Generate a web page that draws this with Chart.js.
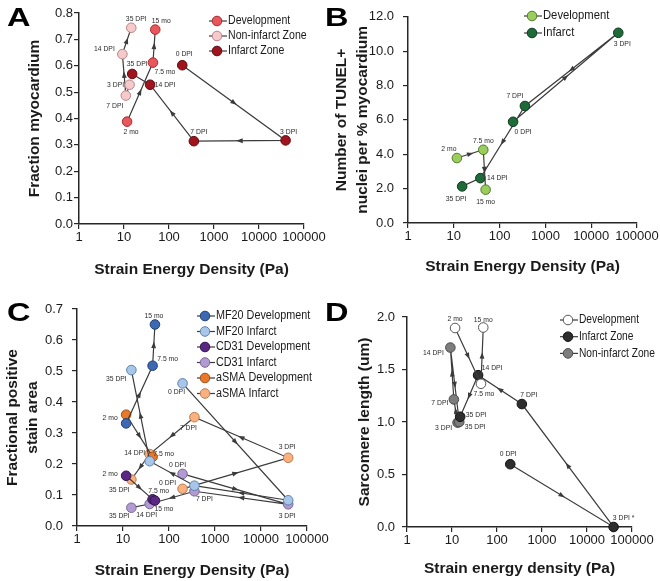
<!DOCTYPE html>
<html>
<head>
<meta charset="utf-8">
<script src="https://cdn.jsdelivr.net/npm/chart.js@4.4.0/dist/chart.umd.min.js"></script>
<style>
    html, body { margin: 0; padding: 0; background: #fff; }
    #wrap { position: relative; width: 660px; height: 581px; overflow: hidden; }
    #wrap canvas { position: absolute; }
    .letter {
        position: absolute; font: bold 26px "Liberation Sans", Arial, sans-serif;
        line-height: 1; color: #000; transform: scaleX(1.25); transform-origin: left top;
    }
</style>
</head>
<body>
<div id="wrap">
    <canvas id="chartA" width="330" height="290" style="left:0;top:0"></canvas>
    <canvas id="chartB" width="330" height="290" style="left:330px;top:0"></canvas>
    <canvas id="chartC" width="330" height="291" style="left:0;top:290px"></canvas>
    <canvas id="chartD" width="330" height="291" style="left:330px;top:290px"></canvas>
    <span class="letter" style="left:7px;top:4px">A</span>
    <span class="letter" style="left:325px;top:4px">B</span>
    <span class="letter" style="left:7px;top:299px">C</span>
    <span class="letter" style="left:325px;top:299px">D</span>
</div>
<script>
"use strict";

const decades = [1, 10, 100, 1000, 10000, 100000];

// strain energy density (Pa), same time points in every panel
const sedDev = [11.7, 44, 49.5];                 // 2 mo, 7.5 mo, 15 mo
const sedInfarct = [197, 39000, 357, 38, 15.2];  // 0, 3, 7, 14, 35 DPI
const sedRemote = [13.3, 11, 9.2, 14.5];         // 3, 7, 14, 35 DPI

const devNames = ['2 mo', '7.5 mo', '15 mo'];
const infarctNames = ['0 DPI', '3 DPI', '7 DPI', '14 DPI', '35 DPI'];
const remoteNames = ['3 DPI', '7 DPI', '14 DPI', '35 DPI'];
const sarcInfarctNames = ['0 DPI', '3 DPI *', '7 DPI', '14 DPI', '35 DPI'];

// A - fraction myocardium
const myoDev = [0.388, 0.612, 0.737];
const myoRemote = [0.528, 0.487, 0.644, 0.744];
const myoInfarct = [0.602, 0.317, 0.314, 0.528, 0.569];

// B - TUNEL+ nuclei per % myocardium
const tunelDev = [3.78, 4.26, 1.94];
const tunelInfarct = [5.89, 11.07, 6.81, 2.61, 2.13];

// C - fractional positive stain area
const mf20Dev = [0.331, 0.517, 0.650];
const mf20Infarct = [0.460, 0.083, 0.130, 0.209, 0.503];
const cd31Dev = [0.162, 0.086, 0.082];
const cd31Infarct = [0.168, 0.070, 0.112, 0.071, 0.059];
const asmaDev = [0.359, 0.223];                  // 2 mo, 7.5 mo
const asmaInfarct = [0.120, 0.220, 0.351, 0.232, 0.150];

// D - sarcomere length (um)
const sarcDev = [1.895, 1.364, 1.90];
const sarcInfarct = [0.598, 0.0, 1.171, 1.446, 1.05];
const sarcRemote = [0.994, 1.215, 1.709, 1.0];

Chart.defaults.font.family = '"Liberation Sans", Arial, Helvetica, sans-serif';
Chart.defaults.color = '#1a1a1a';

const LINE = '#3b3b3b';
const AXIS = '#262626';
const FONT = '"Liberation Sans", Arial, sans-serif';

function pts(xs, ys) {
    return ys.map((y, i) => ({x: xs[i], y: y}));
}

// narrow text, the original uses a condensed face
function squeeze(ctx, str, x, y, sx, align) {
    ctx.save();
    ctx.translate(x, y);
    ctx.scale(sx, 1);
    ctx.textAlign = align;
    ctx.fillText(str, 0, 0);
    ctx.restore();
}

function makeDecor(p) {
    return {
        id: 'decor' + p.id,
        afterDatasetsDraw(chart) {
            const ctx = chart.ctx;
            ctx.save();

            // arrow heads half way along each segment
            ctx.fillStyle = LINE;
            p.series.forEach((s, di) => {
                const els = chart.getDatasetMeta(di).data;
                for (let i = 0; i + 1 < els.length; i++) {
                    const a = els[i], b = els[i + 1];
                    const dx = b.x - a.x, dy = b.y - a.y;
                    if (Math.hypot(dx, dy) < 22) continue;
                    ctx.save();
                    ctx.translate(a.x + dx / 2, a.y + dy / 2);
                    ctx.rotate(Math.atan2(dy, dx));
                    ctx.beginPath();
                    ctx.moveTo(3.5, 0);
                    ctx.lineTo(-3, -2.4);
                    ctx.lineTo(-3, 2.4);
                    ctx.closePath();
                    ctx.fill();
                    ctx.restore();
                }
            });

            // time point tags
            ctx.font = '8px ' + FONT;
            ctx.fillStyle = '#2a2a2a';
            ctx.textBaseline = 'middle';
            p.series.forEach((s, di) => {
                const els = chart.getDatasetMeta(di).data;
                s.tags.forEach((t, i) => {
                    if (!t) return;
                    squeeze(ctx, s.names[i], els[i].x + t[0], els[i].y + t[1], 0.85, 'center');
                });
            });

            // legend  -o- label
            const lg = p.legend;
            ctx.font = lg.size + 'px ' + FONT;
            p.series.forEach((s, i) => {
                const y = lg.y0 + i * lg.dy;
                ctx.strokeStyle = LINE;
                ctx.lineWidth = 1.2;
                ctx.beginPath();
                ctx.moveTo(lg.markX - 8, y);
                ctx.lineTo(lg.markX + 10, y);
                ctx.stroke();
                ctx.beginPath();
                ctx.arc(lg.markX, y, 4.8, 0, Math.PI * 2);
                ctx.fillStyle = s.fill;
                ctx.fill();
                ctx.strokeStyle = s.edge;
                ctx.lineWidth = 1;
                ctx.stroke();
                ctx.fillStyle = '#1a1a1a';
                squeeze(ctx, s.label, lg.markX + 11, y, lg.sx, 'left');
            });
            ctx.restore();
        }
    };
}

function makePanel(p) {
    const cv = document.getElementById(p.id);
    const W = cv.width, H = cv.height;
    const a = p.area;
    return new Chart(cv, {
        type: 'scatter',
        data: {
            datasets: p.series.map(s => ({
                label: s.label,
                data: pts(s.x, s.y),
                showLine: true,
                borderColor: LINE,
                borderWidth: 1.2,
                pointRadius: 4.8,
                pointBackgroundColor: s.fill,
                pointBorderColor: s.edge,
                pointBorderWidth: 1,
                clip: false
            }))
        },
        options: {
            responsive: false,
            animation: false,
            events: [],
            layout: {padding: {left: 0, top: a.top, right: W - a.right, bottom: 0}},
            plugins: {legend: {display: false}, tooltip: {enabled: false}},
            scales: {
                x: {
                    type: 'logarithmic',
                    min: 1,
                    max: 100000,
                    afterBuildTicks: s => { s.ticks = decades.map(v => ({value: v})); },
                    afterFit: s => { s.height = H - a.bottom; },
                    ticks: {
                        callback: v => String(v),
                        font: {size: 13},
                        padding: p.xTickPad,
                        maxRotation: 0,
                        autoSkip: false
                    },
                    grid: {drawOnChartArea: false, tickLength: 5, color: AXIS, lineWidth: 1.2},
                    border: {color: AXIS, width: 1.5},
                    title: {
                        display: true,
                        text: p.xTitle,
                        font: {size: 15.5, weight: 'bold', lineHeight: 1.2},
                        padding: {top: 0, bottom: p.xTitlePad}
                    }
                },
                y: {
                    type: 'linear',
                    min: 0,
                    max: p.yMax,
                    afterFit: s => { s.width = a.left; },
                    ticks: {
                        stepSize: p.yStep,
                        callback: v => v.toFixed(1),
                        font: {size: 13},
                        padding: p.yTickPad
                    },
                    grid: {drawOnChartArea: false, tickLength: 5, color: AXIS, lineWidth: 1.2},
                    border: {color: AXIS, width: 1.5},
                    title: {
                        display: true,
                        text: p.yTitle,
                        font: {size: 15.5, weight: 'bold', lineHeight: p.yTitleLH},
                        padding: {top: p.yTitlePad, bottom: 0}
                    }
                }
            }
        },
        plugins: [makeDecor(p)]
    });
}

makePanel({
    id: 'chartA',
    area: {left: 79, top: 13, right: 304, bottom: 224},
    yMax: 0.8, yStep: 0.1,
    yTitle: 'Fraction myocardium', yTitleLH: 1.2, yTitlePad: 25.7, yTickPad: 1,
    xTitle: 'Strain Energy Density (Pa)', xTitlePad: 10.7, xTickPad: 1,
    legend: {markX: 217, y0: 21, dy: 15, size: 12, sx: 0.88},
    series: [
        {label: 'Development', x: sedDev, y: myoDev, names: devNames,
            fill: '#e9565b', edge: '#a52a2e', tags: [[4, 10], [12, 9], [6, -9]]},
        {label: 'Non-infarct Zone', x: sedRemote, y: myoRemote, names: remoteNames,
            fill: '#f6c9cb', edge: '#b88487', tags: [[-14, 0], [-11, 10], [-18, -5], [5, -9]]},
        {label: 'Infarct Zone', x: sedInfarct, y: myoInfarct, names: infarctNames,
            fill: '#a0141e', edge: '#5c0a0f', tags: [[2, -11], [3, -9], [5, -9], [15, 0], [5, -10]]}
    ]
});

makePanel({
    id: 'chartB',
    area: {left: 78, top: 8, right: 307, bottom: 223},
    yMax: 12, yStep: 2,
    yTitle: ['Number of TUNEL+', 'nuclei per % myocardium'], yTitleLH: 1.36, yTitlePad: 1.2, yTickPad: 9,
    xTitle: 'Strain Energy Density (Pa)', xTitlePad: 13.7, xTickPad: 1,
    legend: {markX: 202, y0: 16, dy: 17, size: 12.5, sx: 0.9},
    series: [
        {label: 'Development', x: sedDev, y: tunelDev, names: devNames,
            fill: '#9acd5b', edge: '#4f7a2a', tags: [[-8, -9], [0, -9], [0, 12]]},
        {label: 'Infarct', x: sedInfarct, y: tunelInfarct, names: infarctNames,
            fill: '#1f6a39', edge: '#0c3a1c', tags: [[10, 10], [4, 11], [-10, -10], [17, 0], [-6, 12]]}
    ]
});

makePanel({
    id: 'chartC',
    area: {left: 77, top: 19, right: 307, bottom: 236},
    yMax: 0.7, yStep: 0.1,
    yTitle: ['Fractional positive', 'stain area'], yTitleLH: 1.29, yTitlePad: 3, yTickPad: 9,
    xTitle: 'Strain Energy Density (Pa)', xTitlePad: 0.7, xTickPad: 1,
    legend: {markX: 205, y0: 26, dy: 15.5, size: 12, sx: 0.9},
    series: [
        {label: 'MF20 Development', x: sedDev, y: mf20Dev, names: devNames,
            fill: '#3c69b1', edge: '#1f3f75', tags: [null, [15, -7], [-1, -9]]},
        {label: 'MF20 Infarct', x: sedInfarct, y: mf20Infarct, names: infarctNames,
            fill: '#a7c6e8', edge: '#5d82ad', tags: [[-6, 8], null, null, null, [-15, 9]]},
        {label: 'CD31 Development', x: sedDev, y: cd31Dev, names: devNames,
            fill: '#5a2783', edge: '#32124f', tags: [[-16, -2], [6, -9], [9, 8]]},
        {label: 'CD31 Infarct', x: sedInfarct, y: cd31Infarct, names: infarctNames,
            fill: '#b29bd1', edge: '#7a649b', tags: [[-5, -9], [-1, 11], [10, 8], [-3, 11], [-12, 8]]},
        {label: 'aSMA Development', x: sedDev, y: asmaDev, names: devNames,
            fill: '#e8782a', edge: '#a24f12', tags: [[-16, 3], [11, -3]]},
        {label: 'aSMA Infarct', x: sedInfarct, y: asmaInfarct, names: infarctNames,
            fill: '#f8b17f', edge: '#bd7a4a', tags: [[-15, -6], [-1, -11], [-6, 11], [-15, -1], [-12, 10]]}
    ]
});

makePanel({
    id: 'chartD',
    area: {left: 77, top: 27, right: 302, bottom: 237},
    yMax: 2.0, yStep: 0.5,
    yTitle: 'Sarcomere length (um)', yTitleLH: 1.2, yTitlePad: 25.7, yTickPad: 7,
    xTitle: 'Strain energy density (Pa)', xTitlePad: 2.7, xTickPad: 1,
    legend: {markX: 238, y0: 30, dy: 16.7, size: 12, sx: 0.85},
    series: [
        {label: 'Development', x: sedDev, y: sarcDev, names: devNames,
            fill: '#ffffff', edge: '#555555', tags: [[0, -9], [3, 10], [0, -8]]},
        {label: 'Infarct Zone', x: sedInfarct, y: sarcInfarct, names: sarcInfarctNames,
            fill: '#2e2e2e', edge: '#111111', tags: [[-2, -10], [10, -9], [7, -9], [14, -7], [16, -2]]},
        {label: 'Non-infarct Zone', x: sedRemote, y: sarcRemote, names: remoteNames,
            fill: '#7d7d7d', edge: '#4a4a4a', tags: [[-14, 5], [-14, 3], [-17, 5], [16, 5]]}
    ]
});
</script>
</body>
</html>
